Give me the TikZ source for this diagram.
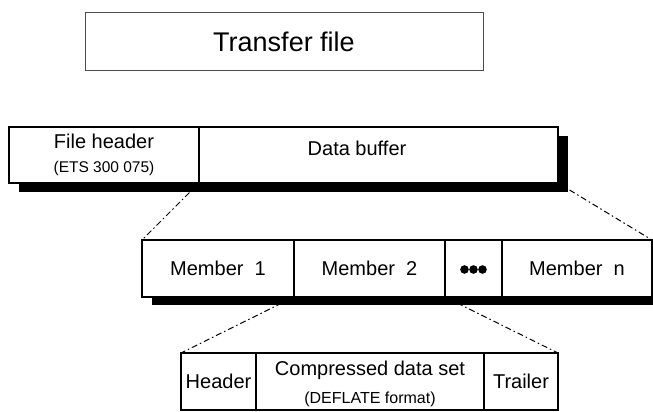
\documentclass[tikz,border=0pt]{standalone}
\usepackage{fontspec}
\setmainfont{Liberation Sans}
\pgfdeclarelayer{bg}
\pgfdeclarelayer{shadowlayer}
\pgfsetlayers{bg,shadowlayer,main}
\begin{document}
\begin{tikzpicture}[x=1pt,y=-1pt,
  cell/.style={draw=black,line width=1.2pt,fill=white,rectangle,inner sep=0pt,outer sep=0pt,
    minimum height=57pt,font=\fontsize{20}{24}\selectfont,align=center},
  plain/.style={inner sep=0pt,outer sep=0pt,font=\fontsize{20}{24}\selectfont,align=center},
  smalltext/.style={font=\fontsize{15.5}{18}\selectfont},
  shadowfill/.style={fill=black},
  zoomline/.style={line width=1pt,dash pattern=on 6pt off 3pt on 1.5pt off 3pt}]
\useasboundingbox (0,0) rectangle (653,412);
\clip (0,0) rectangle (653,412);

% Transfer file
\node[cell,draw=black!70,line width=1pt,minimum width=398pt,minimum height=57.5pt,
  font=\fontsize{27}{30}\selectfont] (tf) at (284,41.75) {Transfer file};

% File level
\node[cell,minimum width=190pt,minimum height=56pt] (fh) at (104,155)
  {File header\\{\fontsize{15.5}{18}\selectfont (ETS 300 075)}};
\node[cell,minimum width=359pt,minimum height=56pt] (db) at (378.5,155) {};
\node[plain] (dbt) at (357,148) {Data buffer};

% Member level
\node[cell,minimum width=152pt] (m1) at (218,268.5) {Member\ \ 1};
\node[cell,minimum width=151pt] (m2) at (369.5,268.5) {Member\ \ 2};
\node[cell,minimum width=57pt] (dots) at (473.5,268.5) {};
\node[cell,minimum width=150pt] (mn) at (577,268.5) {Member\ \ n};
\foreach \dx in {-9,0,9}
  \fill ([shift={(\dx,1)}]dots.center) circle (4.3pt);

% Member detail
\node[cell,minimum width=75pt] (hd) at (218.5,381.5) {Header};
\node[cell,minimum width=228pt] (cd) at (370,381.5) {};
\node[plain] (cdt) at (370,384)
  {Compressed data set\\[4pt]{\fontsize{16}{18}\selectfont (DEFLATE format)}};
\node[cell,minimum width=74pt] (tr) at (521,381.5) {Trailer};

% Shadows
\begin{pgfonlayer}{shadowlayer}
  \fill[shadowfill] ([shift={(10,8.5)}]fh.north west) rectangle ([shift={(10,8.5)}]db.south east);
  \fill[shadowfill] ([shift={(9.5,7.5)}]m1.north west) rectangle ([shift={(9.5,7.5)}]mn.south east);
\end{pgfonlayer}

% Zoom connectors
\begin{pgfonlayer}{bg}
  \draw[zoomline] (fh.south east) -- (m1.north west);
  \draw[zoomline] (db.south east) -- (mn.north east);
  \draw[zoomline] (m1.south east) -- (hd.north west);
  \draw[zoomline] (m2.south east) -- (tr.north east);
\end{pgfonlayer}
\end{tikzpicture}
\end{document}
